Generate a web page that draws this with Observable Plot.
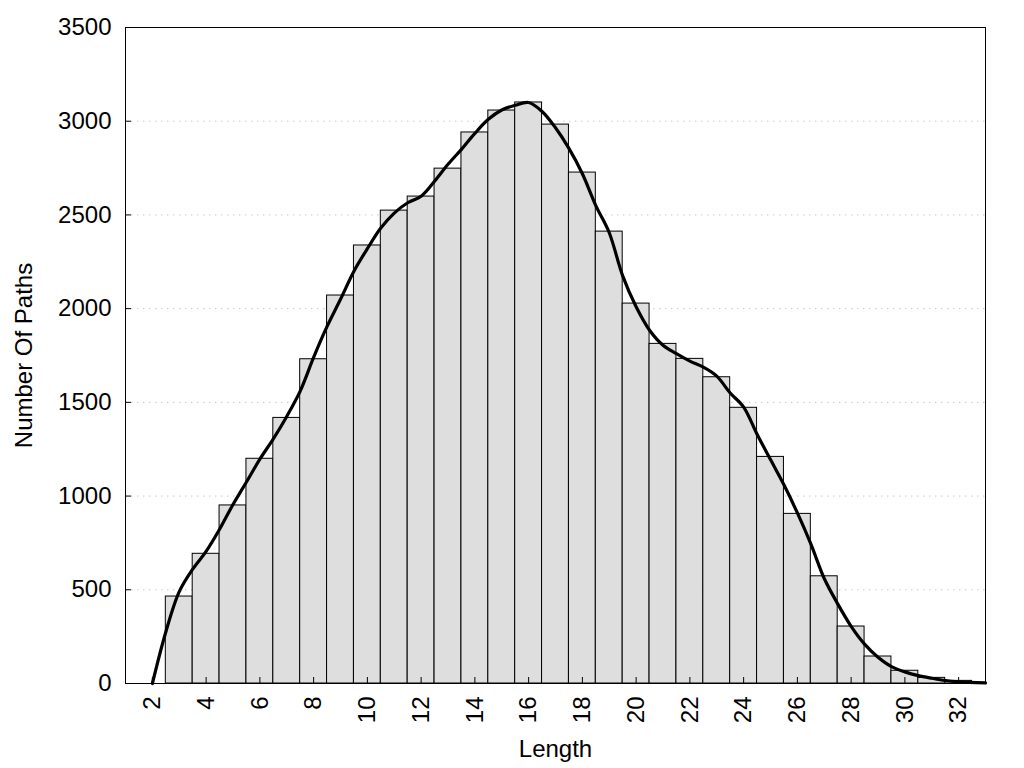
<!DOCTYPE html>
<html>
<head>
<meta charset="utf-8">
<script src="https://cdn.jsdelivr.net/npm/d3@7"></script>
<script src="https://cdn.jsdelivr.net/npm/@observablehq/plot@0.6"></script>
<style>
  html, body { margin: 0; padding: 0; background: #fff; }
  #chart svg { display: block; }
</style>
</head>
<body>
<div id="chart"></div>
<script>
// Histogram bins (path length) and counts
const lengths = [3, 4, 5, 6, 7, 8, 9, 10, 11, 12, 13, 14, 15, 16, 17, 18, 19, 20, 21, 22, 23, 24, 25, 26, 27, 28, 29, 30, 31, 32];
const counts  = [464, 692, 950, 1199, 1417, 1730, 2070, 2337, 2523, 2598, 2747, 2940, 3057, 3100, 2982, 2726, 2411, 2027, 1812, 1732, 1634, 1471, 1209, 905, 572, 304, 144, 68, 30, 14];

// Smoothed density curve
const curveX = [2.0, 2.5, 3.0, 3.5, 4.0, 4.5, 5.0, 5.5, 6.0, 6.5, 7.0, 7.5, 8.0, 8.5, 9.0, 9.5, 10.0, 10.5, 11.0, 11.5, 12.0, 12.5, 13.0, 13.5, 14.0, 14.5, 15.0, 15.5, 16.0, 16.5, 17.0, 17.5, 18.0, 18.5, 19.0, 19.5, 20.0, 20.5, 21.0, 21.5, 22.0, 22.5, 23.0, 23.5, 24.0, 24.5, 25.0, 25.5, 26.0, 26.5, 27.0, 27.5, 28.0, 28.5, 29.0, 29.5, 30.0, 30.5, 31.0, 31.5, 32.0, 33.0];
const curveY = [0, 275, 490, 610, 705, 823, 955, 1075, 1197, 1305, 1425, 1560, 1740, 1905, 2050, 2200, 2320, 2430, 2510, 2565, 2600, 2680, 2770, 2850, 2935, 3010, 3060, 3085, 3100, 3052, 2965, 2855, 2720, 2550, 2405, 2175, 2010, 1885, 1805, 1760, 1720, 1688, 1640, 1550, 1475, 1330, 1195, 1060, 910, 745, 560, 425, 305, 210, 140, 90, 62, 42, 28, 16, 9, 3];

// Axis ticks
const xTicks = [2, 4, 6, 8, 10, 12, 14, 16, 18, 20, 22, 24, 26, 28, 30, 32];
const yTicks = [0, 500, 1000, 1500, 2000, 2500, 3000, 3500];
const gridY  = [500, 1000, 1500, 2000, 2500, 3000];

const bars = lengths.map((l, i) => ({length: l, count: counts[i]}));
const curve = curveX.map((x, i) => ({x, y: curveY[i]}));

const chart = Plot.plot({
  width: 1024,
  height: 768,
  marginLeft: 125,
  marginRight: 39,
  marginTop: 27,
  marginBottom: 85,
  style: {fontFamily: "'Liberation Sans', Arial, sans-serif", fontSize: "24px", color: "#000", background: "#fff"},
  x: {domain: [1, 33], label: null},
  y: {domain: [0, 3500], label: null},
  marks: [
    Plot.ruleY(gridY, {stroke: "#c8c8c8", strokeDasharray: "1.5,4.5", strokeWidth: 1}),
    Plot.rectY(bars, {x1: d => d.length - 0.5, x2: d => d.length + 0.5, y1: 0, y2: "count", fill: "#dedede", stroke: "#000", strokeWidth: 1}),
    Plot.line(curve, {x: "x", y: "y", curve: "catmull-rom", stroke: "#000", strokeWidth: 3.2}),
    Plot.frame({stroke: "#000", strokeWidth: 1}),
    // inward ticks
    Plot.axisX(xTicks, {tickSize: -6, text: null, stroke: "#000"}),
    Plot.axisY(yTicks, {tickSize: -6, text: null, stroke: "#000"}),
    // tick labels
    Plot.axisX(xTicks, {tickSize: 0, tickPadding: 13, tickRotate: -90, fontSize: 24, label: null, tickFormat: d => String(d)}),
    Plot.axisY(yTicks, {tickSize: 0, tickPadding: 14, fontSize: 24, label: null, tickFormat: d => String(d)}),
    // axis titles
    Plot.text(["Length"], {frameAnchor: "bottom", dy: 73, fontSize: 24, text: d => d}),
    Plot.text(["Number Of Paths"], {frameAnchor: "left", dx: -101, rotate: -90, textAnchor: "middle", fontSize: 24, text: d => d})
  ]
});
document.getElementById("chart").appendChild(chart);
</script>
</body>
</html>
